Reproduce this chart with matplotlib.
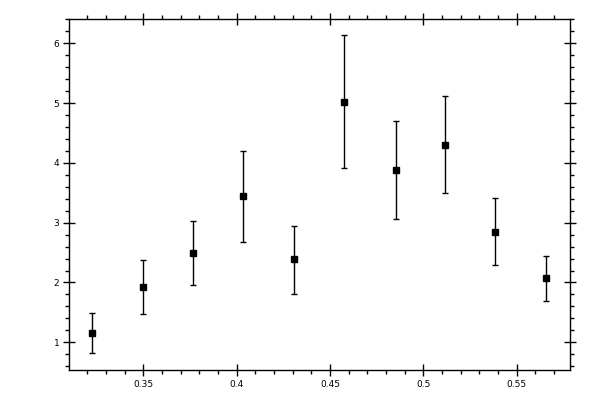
import matplotlib
matplotlib.use("Agg")
import matplotlib.pyplot as plt
import numpy as np
from matplotlib.ticker import MultipleLocator, FormatStrFormatter

# ---------------------------------------------------------------------------
# Data
# ---------------------------------------------------------------------------
x_vals = [0.3227, 0.3500, 0.3768, 0.4036, 0.4309, 0.4577, 0.4852, 0.5119, 0.5386, 0.5659]
y_vals = [1.15, 1.93, 2.50, 3.45, 2.39, 5.02, 3.88, 4.30, 2.85, 2.07]
y_upper = [1.49, 2.37, 3.03, 4.20, 2.95, 6.14, 4.70, 5.12, 3.41, 2.45]
y_lower = [0.82, 1.48, 1.95, 2.68, 1.80, 3.92, 3.07, 3.50, 2.29, 1.69]

x_ticks = [0.35, 0.4, 0.45, 0.5, 0.55]
x_tick_labels = ["0.35", "0.4", "0.45", "0.5", "0.55"]
y_ticks = [1, 2, 3, 4, 5, 6]

# ---------------------------------------------------------------------------
# Figure
# ---------------------------------------------------------------------------
fig = plt.figure(figsize=(6, 4), dpi=100)
ax = fig.add_axes([0.115, 0.075, 0.835, 0.8775])

y = np.array(y_vals)
err = [y - np.array(y_lower), np.array(y_upper) - y]
ax.errorbar(x_vals, y_vals, yerr=err, fmt="s", color="black", ms=5,
            elinewidth=1.0, capsize=2.5, capthick=1.0, ecolor="black")

ax.set_xlim(0.3102, 0.5786)
ax.set_ylim(0.536, 6.407)

ax.set_xticks(x_ticks)
ax.set_xticklabels(x_tick_labels)
ax.set_yticks(y_ticks)
ax.yaxis.set_major_formatter(FormatStrFormatter("%d"))
ax.xaxis.set_minor_locator(MultipleLocator(0.01))
ax.yaxis.set_minor_locator(MultipleLocator(0.2))

for side in ax.spines.values():
    side.set_linewidth(1.0)
    side.set_color("black")

ax.tick_params(which="major", direction="inout", length=8, width=1.0,
               top=True, right=True, labelsize=6.5, pad=3)
ax.tick_params(which="minor", direction="out", length=3, width=1.0,
               top=True, right=True)

fig.savefig("out.png", dpi=100)
